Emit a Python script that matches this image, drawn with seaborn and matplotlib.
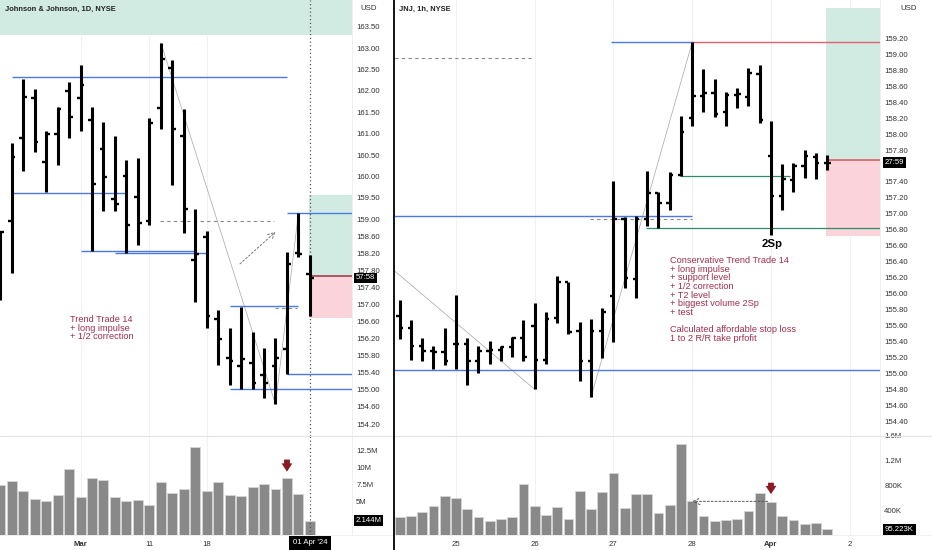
import numpy as np
import matplotlib.pyplot as plt
import seaborn as sns
import pandas as pd
from matplotlib.patches import Rectangle

# ---- daily JNJ bars (21 Feb - 01 Apr 2024) ----
d_open = [157.60, 158.95, 160.90, 161.83, 160.34, 161.00, 162.00, 161.83, 161.33, 160.63,
          159.47, 160.00, 159.51, 158.95, 161.60, 162.54, 160.95, 158.05, 158.58, 156.65,
          155.75, 155.57, 155.64, 155.35, 155.57, 155.96, 158.21, 157.72]
d_high = [158.69, 160.78, 162.29, 162.05, 161.07, 161.63, 162.22, 162.60, 161.63, 161.28,
          160.95, 160.38, 160.42, 161.36, 163.13, 162.72, 161.57, 159.23, 158.71, 156.86,
          156.44, 156.95, 156.35, 155.97, 156.21, 158.23, 159.15, 158.16]
d_low = [157.10, 157.74, 160.13, 160.56, 159.63, 160.26, 160.91, 161.07, 158.25, 159.18,
         159.19, 158.21, 158.40, 158.85, 161.12, 159.79, 158.67, 157.05, 156.44, 155.58,
         155.11, 155.02, 155.02, 154.80, 154.66, 155.37, 158.11, 156.74]
d_close = [158.69, 160.46, 161.85, 160.80, 160.99, 161.57, 161.39, 162.13, 159.83, 159.98,
           159.35, 158.87, 158.90, 161.24, 162.75, 161.12, 159.23, 158.19, 156.74, 156.19,
           155.68, 155.72, 155.17, 155.17, 155.74, 157.95, 158.19, 157.62]
d_vol = [7.4, 8.0, 6.6, 5.4, 5.0, 6.0, 9.8, 5.6, 8.5, 8.2, 5.7, 5.1, 5.2, 4.5, 7.9, 6.2,
         6.9, 13.1, 6.5, 7.8, 5.9, 5.85, 7.1, 7.5, 6.8, 8.4, 6.1, 2.144]  # millions

d_date_pos = [7, 13, 18]
d_date_labels = ["Mar", "11", "18"]
d_price_ticks = [163.5, 163.0, 162.5, 162.0, 161.5, 161.0, 160.5, 160.0, 159.5, 159.0,
                 158.6, 158.2, 157.8, 157.4, 157.0, 156.6, 156.2, 155.8, 155.4, 155.0,
                 154.6, 154.2]
d_vol_ticks = [5, 7.5, 10, 12.5]
d_vol_labels = ["5M", "7.5M", "10M", "12.5M"]

# ---- hourly JNJ bars (22 Mar - 01 Apr 2024) ----
h_open = [155.72, 155.57, 155.34, 155.28, 155.27, 155.37, 155.37, 155.15, 155.28, 155.30,
          155.33, 155.44, 155.59, 155.17, 155.69, 156.14, 155.53, 155.15, 155.53, 155.97,
          156.93, 156.18, 156.93, 157.26, 157.13, 157.49, 158.20, 158.48, 158.52, 158.28,
          158.49, 158.47, 158.75, 157.73, 157.22, 157.43, 157.60, 157.71, 157.64]
h_high = [155.92, 155.67, 155.44, 155.34, 155.57, 155.98, 155.45, 155.34, 155.41, 155.35,
          155.46, 155.67, 155.88, 155.77, 156.22, 156.14, 155.65, 155.68, 155.82, 157.41,
          156.96, 156.97, 157.54, 157.28, 157.53, 158.23, 159.15, 158.82, 158.69, 158.53,
          158.58, 158.83, 158.86, 158.16, 157.62, 157.64, 157.80, 157.76, 157.74]
h_low = [155.43, 155.17, 155.16, 155.06, 155.10, 155.05, 154.85, 155.01, 155.12, 155.15,
         155.21, 155.15, 154.80, 155.12, 155.63, 155.50, 154.91, 154.70, 155.19, 155.40,
         156.07, 155.94, 156.85, 156.82, 157.05, 157.48, 158.10, 158.28, 158.22, 158.10,
         158.33, 158.35, 158.14, 156.74, 157.05, 157.28, 157.45, 157.44, 157.55]
h_close = [155.57, 155.34, 155.28, 155.27, 155.16, 155.37, 155.15, 155.28, 155.30, 155.33,
           155.44, 155.20, 155.17, 155.68, 156.15, 155.52, 155.15, 155.53, 155.77, 156.94,
           156.19, 156.93, 157.26, 157.13, 157.49, 158.03, 158.48, 158.51, 158.25, 158.49,
           158.50, 158.76, 158.17, 157.22, 157.44, 157.60, 157.72, 157.64, 157.64]
h_vol = [293, 315, 373, 475, 624, 603, 427, 283, 224, 251, 283, 827, 475, 320, 453, 256,
         709, 421, 688, 997, 437, 667, 667, 352, 485, 1467, 549, 299, 229, 235, 251, 384,
         672, 528, 309, 235, 171, 187, 95.2]  # thousands

h_date_pos = [5, 12, 19, 26, 33, 40]
h_date_labels = ["25", "26", "27", "28", "Apr", "2"]
# 157.60 sits under the countdown box, as on the reference
h_price_ticks = [159.2, 159.0, 158.8, 158.6, 158.4, 158.2, 158.0, 157.8, 157.4, 157.2,
                 157.0, 156.8, 156.6, 156.4, 156.2, 156.0, 155.8, 155.6, 155.4, 155.2,
                 155.0, 154.8, 154.6, 154.4]
h_vol_ticks = [400, 800, 1200, 1600]
h_vol_labels = ["400K", "800K", "1.2M", "1.6M"]

# ---- drawing levels ----
d_blue_levels = [(162.33, 1, 25), (159.61, 1, 10.9), (158.25, 7, 16.9), (158.20, 10, 17.9),
                 (159.15, 25, 31), (156.96, 20, 26), (155.37, 25, 31), (155.02, 20, 31)]
h_blue_levels = [(159.15, 18.8, 26), (156.97, -1, 26), (155.04, -1, 43)]
h_green_levels = [(157.48, 25, 34.7), (156.82, 21.9, 43)]

BLUE = "#4a79e0"
GREEN = "#2e8b67"
TXT = "#9e2f4b"
ARROW = "#8b1a23"
GRID = "#f1f1f1"

sns.set_theme(style="white")
plt.rcParams["font.family"] = ["Liberation Sans", "DejaVu Sans"]

W, H = 932, 550


def box(x0, y0, x1, y1):
    return [x0 / W, 1 - y1 / H, (x1 - x0) / W, (y1 - y0) / H]


def draw_ohlc(ax, o, h, l, c, tick):
    x = np.arange(len(o))
    ax.vlines(x, l, h, color="black", lw=2.2, zorder=5)
    ax.hlines(o, x - tick, x, color="black", lw=1.7, zorder=5)
    ax.hlines(c, x, x + tick, color="black", lw=1.7, zorder=5)


def volume_bars(ax, vol):
    df = pd.DataFrame({"bar": np.arange(len(vol)), "vol": vol})
    sns.barplot(data=df, x="bar", y="vol", native_scale=True, orient="x", width=0.87,
                color="#898989", saturation=1, edgecolor="#d6d6d6", linewidth=0.6,
                errorbar=None, ax=ax)
    ax.set_xlabel("")
    ax.set_ylabel("")


def style_axes(ax):
    for s in ax.spines.values():
        s.set_visible(False)
    ax.yaxis.tick_right()
    ax.tick_params(axis="y", length=0, pad=3, labelsize=5.6, labelcolor="#333333")
    ax.tick_params(axis="x", length=0, pad=4, labelsize=5.6, labelcolor="#333333")


def price_box(ax, y, text):
    ax.text(1.01, y, text, transform=ax.get_yaxis_transform(), ha="left", va="center",
            fontsize=5.6, color="white", zorder=20, clip_on=False,
            bbox=dict(boxstyle="square,pad=0.25", fc="black", ec="none"))


fig = plt.figure(figsize=(9.32, 5.5), dpi=100)
axL = fig.add_axes(box(0, 0, 352, 436))
axLv = fig.add_axes(box(0, 436, 352, 535))
axR = fig.add_axes(box(395, 0, 880, 436))
axRv = fig.add_axes(box(395, 436, 880, 535))

# ================= left: daily =================
draw_ohlc(axL, d_open, d_high, d_low, d_close, 0.33)
axL.set_xlim(-0.02, 30.67)
axL.set_ylim(153.92, 164.13)
axL.set_yticks(d_price_ticks)
axL.set_yticklabels([f"{p:.2f}" for p in d_price_ticks])
axL.set_xticks([])
for p in d_date_pos:
    axL.axvline(p, color=GRID, lw=0.8, zorder=0)
    axLv.axvline(p, color=GRID, lw=0.8, zorder=0)

axL.axhspan(163.32, 165, color="#d1ebe3", zorder=1, lw=0)
axL.add_patch(Rectangle((26.9, 157.66), 5, 1.91, fc="#d1ebe3", ec="none", zorder=1))
axL.add_patch(Rectangle((26.9, 156.69), 5, 0.97, fc="#fad4da", ec="none", zorder=1))
axL.hlines(157.66, 26.9, 31, color="#a8404f", lw=1.2, zorder=2)
for lvl, a, b in d_blue_levels:
    axL.hlines(lvl, a, b, color=BLUE, lw=1.0, zorder=3)
axL.hlines(158.96, 13.9, 23.9, color="#888888", lw=0.8, ls=(0, (3, 3)), zorder=3)
axL.hlines(156.92, 24.0, 25.9, color="#888888", lw=0.8, ls=(0, (3, 3)), zorder=3)
axL.annotate("", xy=(24.0, 158.70), xytext=(20.9, 157.95),
             arrowprops=dict(arrowstyle="->", color="#777777", lw=0.7, ls=(0, (2, 2)),
                             shrinkA=0, shrinkB=0), zorder=3)
axL.plot([14, 24, 26], [163.13, 154.66, 159.15], color="#a5a5a5", lw=0.5, zorder=2)
axL.axvline(27, color="#555555", lw=0.9, ls=(0, (1, 2)), zorder=4)
axL.text(6.05, 156.76, "Trend Trade 14\n+ long impulse\n+ 1/2 correction", color=TXT,
         fontsize=6.6, va="top", ha="left", linespacing=0.97, zorder=6)
style_axes(axL)
price_box(axL, 157.62, "57:58")

volume_bars(axLv, d_vol)
axLv.set_xlim(-0.02, 30.67)
axLv.set_ylim(0, 14.7)
axLv.set_yticks(d_vol_ticks)
axLv.set_yticklabels(d_vol_labels)
axLv.set_xticks(d_date_pos)
axLv.set_xticklabels(d_date_labels)
axLv.get_xticklabels()[0].set_fontweight("bold")
axLv.axvline(27, color="#555555", lw=0.9, ls=(0, (1, 2)), zorder=4)
axLv.annotate("", xy=(25, 9.4), xytext=(25, 11.2),
              arrowprops=dict(arrowstyle="simple,head_width=0.65,head_length=0.5,tail_width=0.35",
                              fc=ARROW, ec="none", shrinkA=0, shrinkB=0, mutation_scale=12))
style_axes(axLv)
price_box(axLv, 2.144, "2.144M")
axLv.text(27, -0.08, "01 Apr '24", transform=axLv.get_xaxis_transform(), ha="center",
          va="center", fontsize=5.6, color="white", clip_on=False, zorder=20,
          bbox=dict(boxstyle="square,pad=0.45", fc="black", ec="none"))

# ================= right: hourly =================
draw_ohlc(axR, h_open, h_high, h_low, h_close, 0.3)
axR.set_xlim(-0.42, 42.69)
axR.set_ylim(154.216, 159.68)
axR.set_yticks(h_price_ticks)
axR.set_yticklabels([f"{p:.2f}" for p in h_price_ticks])
axR.set_xticks([])
for p in h_date_pos:
    axR.axvline(p, color=GRID, lw=0.8, zorder=0)
    axRv.axvline(p, color=GRID, lw=0.8, zorder=0)

axR.add_patch(Rectangle((37.9, 157.68), 6, 1.90, fc="#d1ebe3", ec="none", zorder=1))
axR.add_patch(Rectangle((37.9, 156.72), 6, 0.96, fc="#fad4da", ec="none", zorder=1))
axR.hlines(157.68, 37.9, 43, color="#d9606f", lw=1.2, zorder=2)
for lvl, a, b in h_blue_levels:
    axR.hlines(lvl, a, b, color=BLUE, lw=1.0, zorder=3)
axR.hlines(159.15, 26, 43, color="#e0606e", lw=1.0, zorder=3)
for lvl, a, b in h_green_levels:
    axR.hlines(lvl, a, b, color=GREEN, lw=0.9, zorder=3)
axR.hlines(158.95, -1, 11.7, color="#888888", lw=0.8, ls=(0, (3, 3)), zorder=3)
axR.hlines(156.93, 16.9, 26, color="#888888", lw=0.8, ls=(0, (3, 3)), zorder=3)
axR.plot([-0.42, 12], [156.28, 154.80], color="#a5a5a5", lw=0.5, zorder=2)
axR.plot([17, 26], [154.70, 159.15], color="#a5a5a5", lw=0.5, zorder=2)
axR.text(33.07, 156.62, "2Sp", fontsize=8.2, fontweight="bold", ha="center", va="center",
         color="black", zorder=6)
axR.text(24.05, 156.47,
         "Conservative Trend Trade 14\n+ long impulse\n+ support level\n+ 1/2 correction\n"
         "+ T2 level\n+ biggest volume 2Sp\n+ test\n\nCalculated affordable stop loss\n"
         "1 to 2 R/R take prfofit",
         color=TXT, fontsize=6.6, va="top", ha="left", linespacing=0.95, zorder=6)
style_axes(axR)
price_box(axR, 157.64, "27:59")

volume_bars(axRv, h_vol)
axRv.set_xlim(-0.42, 42.69)
axRv.set_ylim(0, 1600)
axRv.set_yticks(h_vol_ticks)
axRv.set_yticklabels(h_vol_labels)
axRv.set_xticks(h_date_pos)
axRv.set_xticklabels(h_date_labels)
axRv.get_xticklabels()[4].set_fontweight("bold")
axRv.annotate("", xy=(26, 544), xytext=(32.7, 544),
              arrowprops=dict(arrowstyle="->", color="#555555", lw=0.7, ls=(0, (2, 2)),
                              shrinkA=0, shrinkB=0))
axRv.annotate("", xy=(33, 660), xytext=(33, 845),
              arrowprops=dict(arrowstyle="simple,head_width=0.65,head_length=0.5,tail_width=0.35",
                              fc=ARROW, ec="none", shrinkA=0, shrinkB=0, mutation_scale=12))
style_axes(axRv)
price_box(axRv, 95.2, "95.223K")

# ---- headers, separators ----
fig.text(5 / W, 1 - 9 / H, "Johnson & Johnson, 1D, NYSE", fontsize=5.4, fontweight="bold",
         color="#222222", va="center")
fig.text(399 / W, 1 - 9 / H, "JNJ, 1h, NYSE", fontsize=5.4, fontweight="bold",
         color="#222222", va="center")
fig.text(360 / W, 1 - 9 / H, "USD", fontsize=5.6, color="#333333", va="center")
fig.text(900 / W, 1 - 9 / H, "USD", fontsize=5.6, color="#333333", va="center")

for x0, x1 in [(0, 393), (395, 932)]:
    fig.add_artist(plt.Line2D([x0 / W, x1 / W], [1 - 436 / H, 1 - 436 / H], color="#e3e3e3", lw=0.8))
    fig.add_artist(plt.Line2D([x0 / W, x1 / W], [1 - 535 / H, 1 - 535 / H], color="#ececec", lw=0.6))
for xs in [352, 880]:
    fig.add_artist(plt.Line2D([xs / W, xs / W], [1 - 535 / H, 1], color="#ececec", lw=0.6))
fig.add_artist(plt.Line2D([394 / W, 394 / W], [0, 1], color="#111111", lw=1.4))

fig.savefig("out.png", dpi=100)
